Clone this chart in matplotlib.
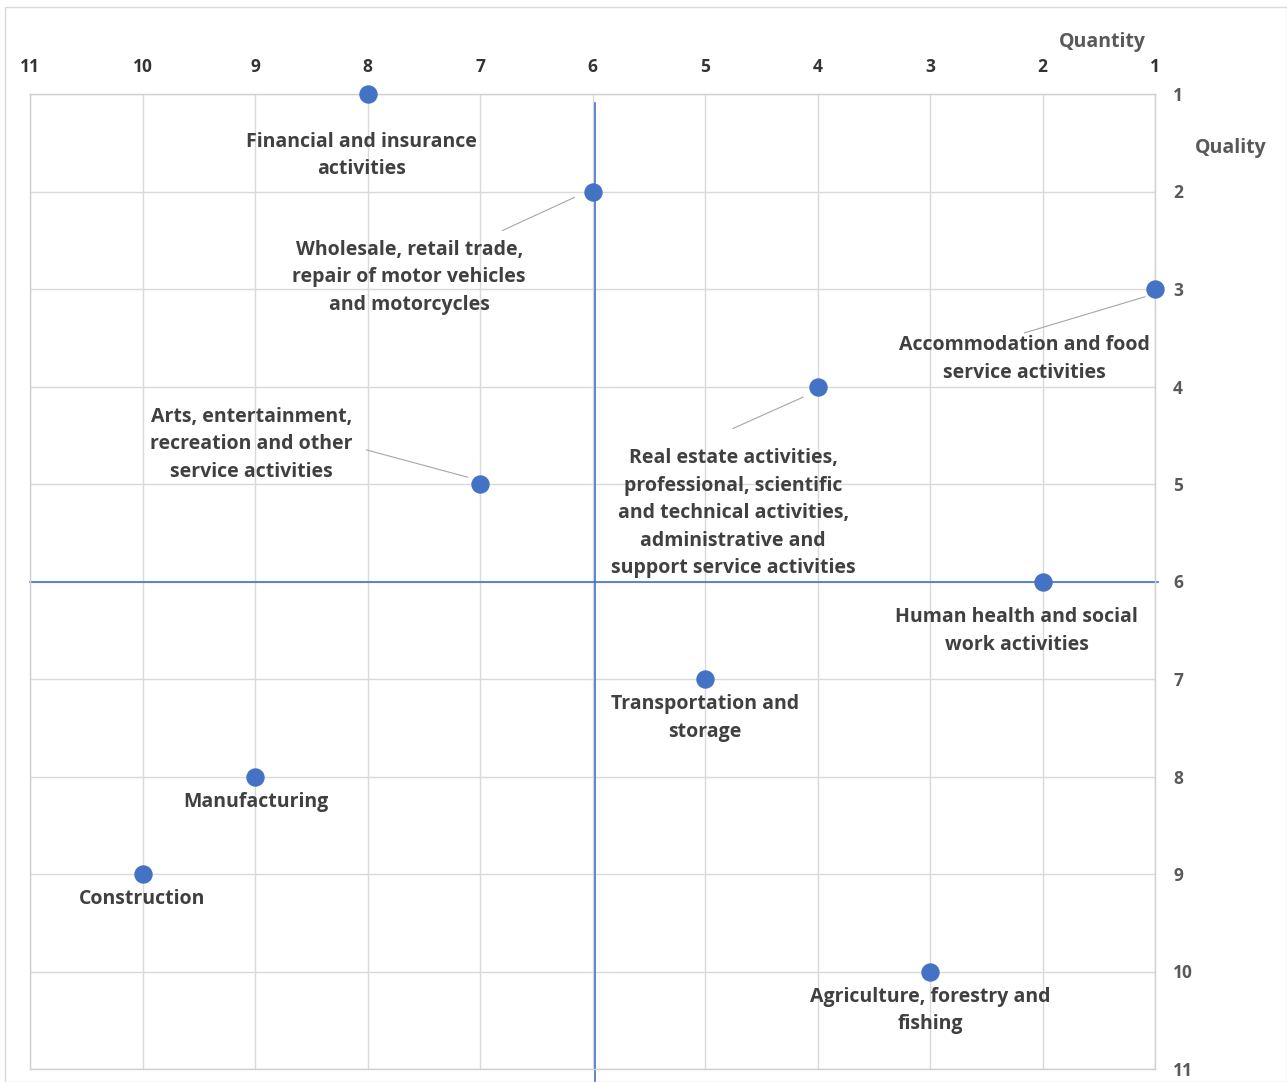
import matplotlib.pyplot as plt
from matplotlib.patches import Rectangle

# Sector ranking: quantity rank (x) vs quality rank (y)
sectors = [
    "Financial and insurance\nactivities",
    "Wholesale, retail trade,\nrepair of motor vehicles\nand motorcycles",
    "Accommodation and food\nservice activities",
    "Real estate activities,\nprofessional, scientific\nand technical activities,\nadministrative and\nsupport service activities",
    "Arts, entertainment,\nrecreation and other\nservice activities",
    "Human health and social\nwork activities",
    "Transportation and\nstorage",
    "Manufacturing",
    "Construction",
    "Agriculture, forestry and\nfishing",
]
quantity = [8, 6, 1, 4, 7, 2, 5, 9, 10, 3]
quality = [1, 2, 3, 4, 5, 6, 7, 8, 9, 10]

# Label centres (data coords) and optional leader-line anchors
label_pos = [
    (8.05, 1.63), (7.63, 2.88), (2.16, 3.72), (4.75, 5.30), (9.03, 4.59),
    (2.23, 6.51), (5.00, 7.40), (8.99, 8.26), (10.00, 9.26), (3.00, 10.40),
]
leaders = {
    1: ((6.16, 2.06), (6.80, 2.40)),
    2: ((1.09, 3.08), (2.16, 3.45)),
    3: ((4.13, 4.11), (4.75, 4.43)),
    4: ((7.11, 4.93), (8.01, 4.65)),
}

blue = "#4472C4"
grid_c = "#d9d9d9"
text_c = "#404040"
axis_c = "#595959"
font = ["Open Sans", "DejaVu Sans"]

fig = plt.figure(figsize=(12.87, 10.82), dpi=100)
fig.patches.append(Rectangle((5 / 1287, 0), 1 - 5 / 1287, 1 - 7 / 1082,
                             transform=fig.transFigure, fill=False,
                             edgecolor="#d9d9d9", linewidth=1))
ax = fig.add_axes([30 / 1287, 1 - 1069 / 1082, 1125 / 1287, 975 / 1082])

ax.set_xlim(11, 1)
ax.set_ylim(11, 1)
ax.set_xticks(range(1, 12))
ax.set_yticks(range(1, 12))
ax.xaxis.tick_top()
ax.yaxis.tick_right()
ax.tick_params(length=0)
ax.tick_params(axis="x", pad=13)
ax.tick_params(axis="y", pad=13)
for lab in ax.get_xticklabels():
    lab.set_fontfamily(font)
    lab.set_fontweight("bold")
    lab.set_fontsize(12.5)
    lab.set_color("#333333")
for lab in ax.get_yticklabels():
    lab.set_fontfamily(font)
    lab.set_fontweight("bold")
    lab.set_fontsize(12.5)
    lab.set_color(axis_c)
    lab.set_horizontalalignment("left")

ax.grid(True, color=grid_c, linewidth=1)
ax.set_axisbelow(True)
for s in ax.spines.values():
    s.set_color("#d0d0d0")
    s.set_linewidth(1)

# Quadrant dividers
ax.plot([5.98, 5.98], [1.09, 11.15], color=blue, linewidth=1.2, clip_on=False, zorder=2)
ax.plot([11, 0.97], [6.01, 6.01], color=blue, linewidth=1.2, clip_on=False, zorder=2)

ax.scatter(quantity, quality, s=150, color=blue, zorder=4, clip_on=False)

for i, name in enumerate(sectors):
    x, y = label_pos[i]
    ax.text(x, y, name, ha="center", va="center", fontsize=14, fontweight="bold",
            family=font, color=text_c, linespacing=1.5, zorder=5)
for i, ((x0, y0), (x1, y1)) in leaders.items():
    ax.plot([x0, x1], [y0, y1], color="#a6a6a6", linewidth=0.8, zorder=3)

fig.text(1102 / 1287, 1 - 42 / 1082, "Quantity", ha="center", va="center",
         fontsize=14, fontweight="bold", family=font, color=axis_c)
fig.text(1231 / 1287, 1 - 148 / 1082, "Quality", ha="center", va="center",
         fontsize=14, fontweight="bold", family=font, color=axis_c)

fig.savefig("out.png", dpi=100)
